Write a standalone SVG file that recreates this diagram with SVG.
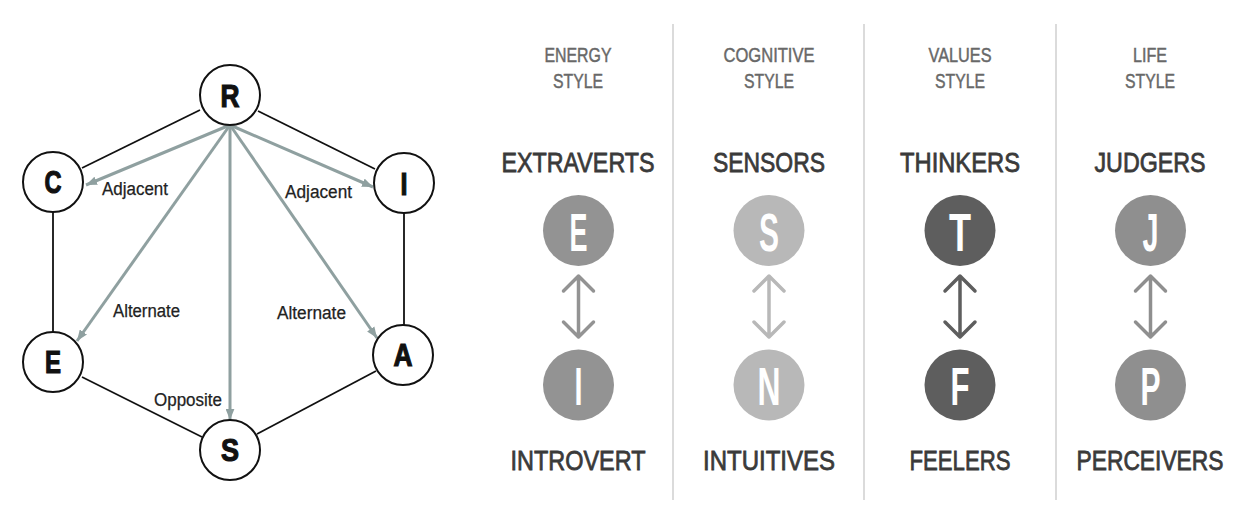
<svg xmlns="http://www.w3.org/2000/svg" width="1257" height="529" viewBox="0 0 1257 529">
<style>
.edge{stroke:#111;stroke-width:1.8;fill:none}
.rel{stroke:#8fa0a0;stroke-width:3;fill:none}
.node circle{fill:#fff;stroke:#111;stroke-width:2}
.nl{font-family:"Liberation Sans",Arial,sans-serif;font-weight:bold;font-size:32px;fill:#111;stroke:#111;stroke-width:1.2;text-anchor:middle}
.lbl{font-family:"Liberation Sans",Arial,sans-serif;font-size:18px;fill:#222;stroke:#222;stroke-width:0.25}
.div{stroke:#cfcfcf;stroke-width:1.5}
.hdr{font-family:"Liberation Sans",Arial,sans-serif;font-size:19.5px;fill:#686868;stroke:#686868;stroke-width:0.45;text-anchor:middle}
.big{font-family:"Liberation Sans",Arial,sans-serif;font-size:28px;fill:#3a3a3a;stroke:#3a3a3a;stroke-width:0.8;text-anchor:middle}
.cl{font-family:"Liberation Sans",Arial,sans-serif;font-weight:bold;font-size:53px;fill:#fff;text-anchor:middle}
.dbl{fill:none;stroke-width:3.5;stroke-linecap:round;stroke-linejoin:round}
</style>
<defs>
<marker id="ah" viewBox="0 0 10 8" refX="10" refY="4" markerWidth="11" markerHeight="9" markerUnits="userSpaceOnUse" orient="auto">
<path d="M0,0 L10,4 L0,8 z" fill="#8fa0a0"/>
</marker>
</defs>
<rect width="1257" height="529" fill="#fff"/>

<g id="connectors">
<line class="edge" x1="200" y1="110" x2="82" y2="168"/>
<line class="edge" x1="258" y1="111" x2="375" y2="169"/>
<line class="edge" x1="53" y1="212" x2="53" y2="332"/>
<line class="edge" x1="404" y1="213" x2="404" y2="325"/>
<line class="edge" x1="82" y1="377" x2="202" y2="437"/>
<line class="edge" x1="376" y1="371" x2="257" y2="434"/>
<line class="rel" x1="230" y1="125" x2="86" y2="185" marker-end="url(#ah)"/>
<line class="rel" x1="230" y1="125" x2="373" y2="187" marker-end="url(#ah)"/>
<line class="rel" x1="230" y1="125" x2="77" y2="341" marker-end="url(#ah)"/>
<line class="rel" x1="230" y1="125" x2="377" y2="338" marker-end="url(#ah)"/>
<line class="rel" x1="230" y1="125" x2="230" y2="420" marker-end="url(#ah)"/>
</g>

<g id="labels">
<text class="lbl" x="102" y="195" textLength="66" lengthAdjust="spacingAndGlyphs">Adjacent</text>
<text class="lbl" x="285" y="198" textLength="67" lengthAdjust="spacingAndGlyphs">Adjacent</text>
<text class="lbl" x="113" y="317" textLength="67" lengthAdjust="spacingAndGlyphs">Alternate</text>
<text class="lbl" x="277" y="319" textLength="69" lengthAdjust="spacingAndGlyphs">Alternate</text>
<text class="lbl" x="154" y="406" textLength="68" lengthAdjust="spacingAndGlyphs">Opposite</text>
</g>

<g id="node-R" class="node"><circle cx="230" cy="95" r="30"/><text class="nl" x="230" y="107" textLength="19" lengthAdjust="spacingAndGlyphs">R</text></g>
<g id="node-C" class="node"><circle cx="53" cy="182" r="30"/><text class="nl" x="53" y="193" textLength="17" lengthAdjust="spacingAndGlyphs">C</text></g>
<g id="node-I" class="node"><circle cx="404" cy="183" r="30"/><text class="nl" x="404" y="195" textLength="7" lengthAdjust="spacingAndGlyphs">I</text></g>
<g id="node-E" class="node"><circle cx="53" cy="362" r="30"/><text class="nl" x="53" y="373" textLength="16" lengthAdjust="spacingAndGlyphs">E</text></g>
<g id="node-A" class="node"><circle cx="403" cy="355" r="30"/><text class="nl" x="403" y="366" textLength="19" lengthAdjust="spacingAndGlyphs">A</text></g>
<g id="node-S" class="node"><circle cx="230" cy="450" r="30"/><text class="nl" x="230" y="461" textLength="18" lengthAdjust="spacingAndGlyphs">S</text></g>

<g id="dividers">
<line class="div" x1="673" y1="24" x2="673" y2="500"/>
<line class="div" x1="864" y1="24" x2="864" y2="500"/>
<line class="div" x1="1056" y1="24" x2="1056" y2="500"/>
</g>

<g id="col-energy">
<text class="hdr" x="578" y="62" textLength="67" lengthAdjust="spacingAndGlyphs">ENERGY</text>
<text class="hdr" x="578" y="88" textLength="50" lengthAdjust="spacingAndGlyphs">STYLE</text>
<text class="big" x="578" y="172" textLength="153" lengthAdjust="spacingAndGlyphs">EXTRAVERTS</text>
<circle cx="578.5" cy="230.5" r="35.5" fill="#939393"/>
<text class="cl" x="578.5" y="251" textLength="18" lengthAdjust="spacingAndGlyphs">E</text>
<path class="dbl" stroke="#939393" d="M578.5,276 V337 M563.5,291 L578.5,276 L593.5,291 M563.5,322 L578.5,337 L593.5,322"/>
<circle cx="578.5" cy="385" r="35.5" fill="#939393"/>
<text class="cl" x="578.5" y="405" textLength="8" lengthAdjust="spacingAndGlyphs">I</text>
<text class="big" x="578" y="470" textLength="135" lengthAdjust="spacingAndGlyphs">INTROVERT</text>
</g>

<g id="col-cognitive">
<text class="hdr" x="769" y="62" textLength="91" lengthAdjust="spacingAndGlyphs">COGNITIVE</text>
<text class="hdr" x="769" y="88" textLength="50" lengthAdjust="spacingAndGlyphs">STYLE</text>
<text class="big" x="769" y="172" textLength="112" lengthAdjust="spacingAndGlyphs">SENSORS</text>
<circle cx="769" cy="230.5" r="35.5" fill="#b8b8b8"/>
<text class="cl" x="769" y="251" textLength="20" lengthAdjust="spacingAndGlyphs">S</text>
<path class="dbl" stroke="#b8b8b8" d="M769,276 V337 M754,291 L769,276 L784,291 M754,322 L769,337 L784,322"/>
<circle cx="769" cy="385" r="35.5" fill="#b8b8b8"/>
<text class="cl" x="769" y="405" textLength="23" lengthAdjust="spacingAndGlyphs">N</text>
<text class="big" x="769" y="470" textLength="132" lengthAdjust="spacingAndGlyphs">INTUITIVES</text>
</g>

<g id="col-values">
<text class="hdr" x="960" y="62" textLength="63" lengthAdjust="spacingAndGlyphs">VALUES</text>
<text class="hdr" x="960" y="88" textLength="50" lengthAdjust="spacingAndGlyphs">STYLE</text>
<text class="big" x="960" y="172" textLength="120" lengthAdjust="spacingAndGlyphs">THINKERS</text>
<circle cx="960" cy="230.5" r="35.5" fill="#5e5e5e"/>
<text class="cl" x="960" y="251" textLength="22" lengthAdjust="spacingAndGlyphs">T</text>
<path class="dbl" stroke="#5e5e5e" d="M960,276 V337 M945,291 L960,276 L975,291 M945,322 L960,337 L975,322"/>
<circle cx="960" cy="385" r="35.5" fill="#5e5e5e"/>
<text class="cl" x="960" y="405" textLength="19" lengthAdjust="spacingAndGlyphs">F</text>
<text class="big" x="960" y="470" textLength="101" lengthAdjust="spacingAndGlyphs">FEELERS</text>
</g>

<g id="col-life">
<text class="hdr" x="1150" y="62" textLength="34" lengthAdjust="spacingAndGlyphs">LIFE</text>
<text class="hdr" x="1150" y="88" textLength="50" lengthAdjust="spacingAndGlyphs">STYLE</text>
<text class="big" x="1150" y="172" textLength="111" lengthAdjust="spacingAndGlyphs">JUDGERS</text>
<circle cx="1150.5" cy="230.5" r="35.5" fill="#8f8f8f"/>
<text class="cl" x="1150.5" y="251" textLength="16" lengthAdjust="spacingAndGlyphs">J</text>
<path class="dbl" stroke="#8f8f8f" d="M1150.5,276 V337 M1135.5,291 L1150.5,276 L1165.5,291 M1135.5,322 L1150.5,337 L1165.5,322"/>
<circle cx="1150.5" cy="385" r="35.5" fill="#8f8f8f"/>
<text class="cl" x="1150.5" y="405" textLength="20" lengthAdjust="spacingAndGlyphs">P</text>
<text class="big" x="1150" y="470" textLength="147" lengthAdjust="spacingAndGlyphs">PERCEIVERS</text>
</g>
</svg>
